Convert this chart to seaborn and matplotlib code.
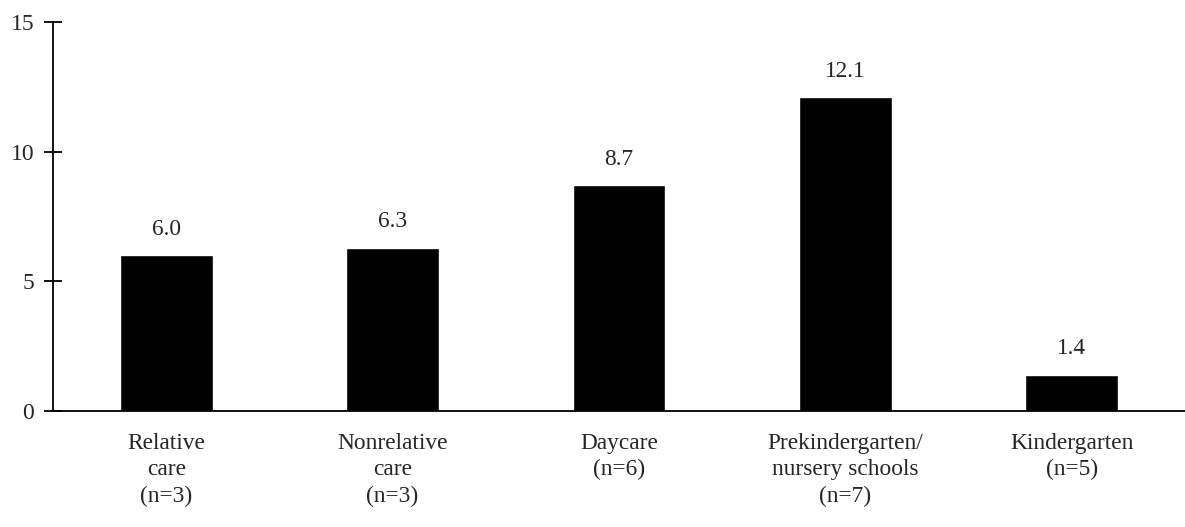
import matplotlib
matplotlib.use("Agg")
import matplotlib.pyplot as plt
import seaborn as sns
import pandas as pd

# --- data ---
categories = ["Relative\ncare\n(n=3)", "Nonrelative\ncare\n(n=3)", "Daycare\n(n=6)",
              "Prekindergarten/\nnursery schools\n(n=7)", "Kindergarten\n(n=5)"]
values = [6.0, 6.3, 8.7, 12.1, 1.4]
y_ticks = [0, 5, 10, 15]

df = pd.DataFrame({"category": categories, "value": values})

sns.set_theme(style="white")
plt.rcParams["font.family"] = ["Liberation Serif", "DejaVu Serif"]

fig = plt.figure(figsize=(11.85, 5.27), dpi=100)
ax = fig.add_axes([0.0447, 0.2201, 0.9553, 0.7382])

sns.barplot(data=df, x="category", y="value", color="black", width=0.41,
            saturation=1, ax=ax)

# value labels above bars
for i, v in enumerate(values):
    ax.annotate(f"{v:.1f}", (i, v), xytext=(0, 11), textcoords="offset points",
                ha="center", va="bottom", fontsize=16.8)

ax.set_xlim(-0.5, 4.5)
ax.set_ylim(0, 15)
ax.set_yticks(y_ticks)
ax.set_xlabel("")
ax.set_ylabel("")

for s in ["top", "right"]:
    ax.spines[s].set_visible(False)
for s in ["left", "bottom"]:
    ax.spines[s].set_color("black")
    ax.spines[s].set_linewidth(1.3)

ax.tick_params(axis="y", direction="inout", length=13, width=1.3, color="black",
               labelsize=17, pad=7, left=True)
ax.tick_params(axis="x", length=0, labelsize=16.8, pad=15.5)
for lbl in ax.get_xticklabels():
    lbl.set_linespacing(1.35)

fig.savefig("out.png", dpi=100)
